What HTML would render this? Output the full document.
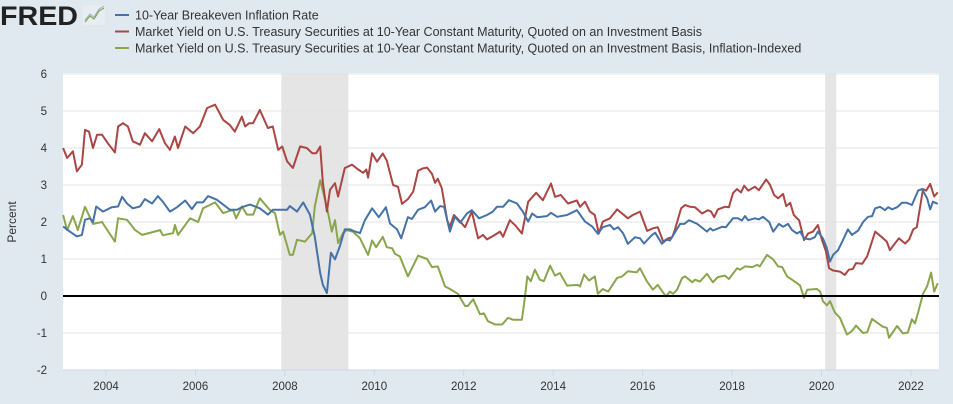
<!DOCTYPE html>
<html><head><meta charset="utf-8"><style>
html,body{margin:0;padding:0;background:#e1e9f0;width:953px;height:404px;overflow:hidden;font-family:"Liberation Sans",sans-serif}
svg{display:block}
</style></head><body>
<svg id="chart" width="953" height="404" xmlns="http://www.w3.org/2000/svg">
<g>
<text x="0" y="25" font-size="27" font-weight="bold" fill="#222" textLength="78" lengthAdjust="spacingAndGlyphs">FRED</text>
<rect x="83" y="5" width="22" height="20" fill="#e8edf2"/>
<polyline points="85,22 90,16 94,19 99,11 104,8" fill="none" stroke="#89a54e" stroke-width="1.2"/>
<polyline points="85,20 90,14 94,17 99,9 104,6" fill="none" stroke="#9ab0c8" stroke-width="1"/>
</g>
<g id="legend" font-size="12.5" fill="#333"></g>
<g id="plot"></g>
</svg>
<script>
const blueDates=[2003.04,2003.19,2003.35,2003.46,2003.53,2003.64,2003.71,2003.78,2003.93,2004.13,2004.27,2004.36,2004.47,2004.60,2004.76,2004.87,2005.03,2005.16,2005.27,2005.43,2005.59,2005.77,2005.92,2006.03,2006.17,2006.28,2006.48,2006.62,2006.77,2006.93,2007.04,2007.22,2007.44,2007.62,2007.73,2008.05,2008.11,2008.27,2008.41,2008.56,2008.67,2008.79,2008.85,2008.94,2009.03,2009.12,2009.23,2009.34,2009.46,2009.57,2009.68,2009.79,2009.95,2010.10,2010.26,2010.35,2010.51,2010.60,2010.75,2010.84,2010.98,2011.13,2011.27,2011.36,2011.47,2011.56,2011.69,2011.80,2011.92,2012.07,2012.18,2012.34,2012.52,2012.65,2012.74,2012.88,2013.01,2013.19,2013.32,2013.44,2013.53,2013.64,2013.86,2013.95,2014.09,2014.31,2014.53,2014.71,2014.87,2015.00,2015.11,2015.27,2015.36,2015.45,2015.56,2015.67,2015.83,2015.94,2016.03,2016.21,2016.28,2016.43,2016.54,2016.61,2016.84,2016.93,2017.04,2017.22,2017.44,2017.51,2017.57,2017.78,2017.86,2018.02,2018.13,2018.22,2018.29,2018.36,2018.51,2018.60,2018.69,2018.83,2018.92,2019.05,2019.14,2019.25,2019.34,2019.45,2019.52,2019.61,2019.74,2019.85,2019.92,2020.03,2020.12,2020.19,2020.26,2020.37,2020.48,2020.59,2020.68,2020.82,2020.93,2021.04,2021.13,2021.20,2021.31,2021.42,2021.49,2021.58,2021.69,2021.80,2021.91,2022.02,2022.16,2022.25,2022.36,2022.43,2022.49,2022.60];
const blueValues=[1.88,1.74,1.61,1.65,2.06,2.10,2.00,2.42,2.28,2.40,2.42,2.68,2.50,2.37,2.42,2.62,2.50,2.70,2.55,2.28,2.40,2.58,2.35,2.53,2.53,2.70,2.60,2.47,2.33,2.33,2.40,2.47,2.37,2.20,2.33,2.33,2.43,2.28,2.53,2.20,1.60,0.62,0.30,0.08,1.17,0.99,1.35,1.80,1.80,1.74,1.70,2.05,2.37,2.13,2.40,1.96,1.80,1.56,2.13,2.08,2.33,2.40,2.58,2.28,2.43,2.41,1.74,2.14,1.98,2.23,2.32,2.10,2.19,2.28,2.41,2.41,2.59,2.50,2.28,2.01,2.23,2.13,2.16,2.25,2.14,2.19,2.32,2.01,1.88,1.68,1.86,1.92,1.80,1.86,1.70,1.41,1.59,1.56,1.42,1.65,1.71,1.41,1.53,1.50,1.95,1.95,2.05,1.95,1.74,1.83,1.77,1.87,1.86,2.10,2.10,2.04,2.16,2.05,2.10,2.07,2.14,2.00,1.74,1.95,1.87,1.95,1.78,1.69,1.74,1.56,1.53,1.59,1.74,1.56,1.29,0.93,1.11,1.24,1.51,1.80,1.65,1.77,2.00,2.14,2.16,2.37,2.41,2.32,2.40,2.34,2.40,2.52,2.52,2.46,2.85,2.89,2.64,2.34,2.55,2.49];
const redDates=[2003.04,2003.13,2003.26,2003.35,2003.46,2003.53,2003.62,2003.71,2003.80,2003.91,2004.04,2004.20,2004.27,2004.38,2004.49,2004.60,2004.76,2004.87,2005.03,2005.19,2005.32,2005.43,2005.54,2005.61,2005.77,2005.95,2006.10,2006.26,2006.44,2006.62,2006.77,2006.88,2007.04,2007.11,2007.20,2007.29,2007.44,2007.62,2007.73,2007.85,2007.94,2008.05,2008.18,2008.34,2008.49,2008.61,2008.70,2008.79,2008.85,2008.94,2009.01,2009.12,2009.19,2009.34,2009.50,2009.64,2009.75,2009.82,2009.86,2009.95,2010.06,2010.19,2010.28,2010.42,2010.53,2010.62,2010.75,2010.87,2010.98,2011.09,2011.18,2011.29,2011.36,2011.42,2011.51,2011.63,2011.69,2011.78,2011.92,2012.03,2012.18,2012.32,2012.43,2012.52,2012.65,2012.81,2012.88,2013.03,2013.15,2013.30,2013.44,2013.62,2013.77,2013.95,2014.04,2014.17,2014.33,2014.53,2014.60,2014.71,2014.82,2014.93,2015.02,2015.11,2015.27,2015.43,2015.54,2015.67,2015.78,2015.94,2016.10,2016.23,2016.34,2016.46,2016.57,2016.66,2016.72,2016.86,2016.95,2017.06,2017.17,2017.33,2017.46,2017.53,2017.60,2017.68,2017.84,2017.93,2018.02,2018.11,2018.20,2018.27,2018.36,2018.51,2018.60,2018.76,2018.85,2018.94,2019.03,2019.14,2019.21,2019.30,2019.38,2019.50,2019.61,2019.70,2019.81,2019.92,2020.01,2020.10,2020.17,2020.26,2020.41,2020.52,2020.61,2020.70,2020.77,2020.91,2021.02,2021.08,2021.20,2021.35,2021.46,2021.53,2021.64,2021.73,2021.87,2021.96,2022.05,2022.13,2022.27,2022.34,2022.43,2022.52,2022.60];
const redValues=[4.00,3.73,3.91,3.37,3.55,4.49,4.44,4.00,4.36,4.36,4.13,3.88,4.58,4.67,4.58,4.18,4.09,4.40,4.18,4.51,4.13,3.95,4.31,4.00,4.58,4.40,4.58,5.08,5.17,4.76,4.62,4.44,4.85,4.58,4.67,4.67,5.03,4.54,4.58,3.95,4.04,3.64,3.46,4.04,4.00,3.86,3.86,4.04,3.05,2.28,2.87,3.05,2.69,3.46,3.55,3.42,3.33,3.42,3.20,3.86,3.63,3.85,3.66,3.00,2.95,2.49,2.62,2.82,3.39,3.45,3.47,3.30,3.06,3.17,2.91,2.05,1.87,2.19,2.01,1.86,2.28,1.56,1.65,1.53,1.62,1.74,1.60,2.05,1.91,1.69,2.55,2.79,2.59,3.04,2.68,2.73,2.50,2.58,2.41,2.55,2.28,2.19,1.69,2.01,2.10,2.34,2.23,2.10,2.19,2.28,1.76,1.83,1.86,1.47,1.56,1.59,1.78,2.37,2.46,2.41,2.40,2.23,2.32,2.28,2.13,2.34,2.41,2.40,2.78,2.89,2.80,2.98,2.85,2.95,2.86,3.15,3.00,2.73,2.64,2.76,2.43,2.52,2.19,2.04,1.51,1.69,1.74,1.92,1.51,1.20,0.75,0.69,0.66,0.57,0.71,0.73,0.89,0.87,1.07,1.29,1.74,1.59,1.47,1.24,1.42,1.56,1.42,1.53,1.80,1.86,2.89,2.85,3.03,2.69,2.80];
const greenDates=[2003.04,2003.13,2003.26,2003.37,2003.53,2003.71,2003.91,2004.20,2004.27,2004.47,2004.65,2004.81,2005.21,2005.27,2005.50,2005.54,2005.61,2005.88,2006.06,2006.17,2006.44,2006.62,2006.84,2006.91,2007.04,2007.15,2007.29,2007.44,2007.66,2007.78,2007.89,2007.96,2008.11,2008.18,2008.27,2008.45,2008.61,2008.67,2008.79,2008.94,2009.05,2009.12,2009.19,2009.30,2009.39,2009.52,2009.68,2009.86,2009.95,2010.04,2010.19,2010.28,2010.40,2010.46,2010.57,2010.75,2010.98,2011.18,2011.29,2011.42,2011.58,2011.69,2011.87,2012.03,2012.09,2012.21,2012.36,2012.45,2012.54,2012.70,2012.86,2012.99,2013.10,2013.30,2013.37,2013.42,2013.50,2013.59,2013.70,2013.79,2013.93,2014.04,2014.15,2014.31,2014.55,2014.60,2014.69,2014.80,2014.93,2015.00,2015.11,2015.23,2015.43,2015.54,2015.67,2015.87,2015.94,2016.10,2016.23,2016.34,2016.52,2016.61,2016.68,2016.77,2016.88,2016.95,2017.11,2017.17,2017.28,2017.44,2017.57,2017.68,2017.84,2017.93,2018.11,2018.18,2018.29,2018.45,2018.56,2018.62,2018.78,2018.92,2019.03,2019.12,2019.23,2019.34,2019.45,2019.52,2019.61,2019.68,2019.90,2019.97,2020.03,2020.12,2020.19,2020.30,2020.41,2020.57,2020.68,2020.77,2020.93,2021.02,2021.13,2021.24,2021.37,2021.46,2021.51,2021.69,2021.82,2021.93,2022.02,2022.09,2022.16,2022.27,2022.36,2022.45,2022.52,2022.60];
const greenValues=[2.19,1.78,2.16,1.78,2.41,1.95,2.00,1.47,2.10,2.06,1.78,1.65,1.78,1.64,1.70,1.92,1.65,2.10,2.00,2.37,2.53,2.24,2.33,2.10,2.42,2.20,2.20,2.64,2.33,2.24,1.65,1.74,1.11,1.11,1.52,1.47,1.70,2.42,3.13,2.40,1.74,2.05,1.43,1.70,1.78,1.74,1.56,1.11,1.50,1.32,1.60,1.32,1.29,1.14,1.07,0.53,1.09,1.00,0.78,0.80,0.26,0.19,0.06,-0.27,-0.27,-0.09,-0.49,-0.47,-0.68,-0.77,-0.77,-0.59,-0.64,-0.64,-0.02,0.53,0.40,0.71,0.44,0.40,0.82,0.55,0.62,0.28,0.30,0.26,0.58,0.42,0.53,0.06,0.19,0.12,0.49,0.53,0.67,0.64,0.75,0.39,0.17,0.30,-0.01,0.12,0.06,0.17,0.48,0.53,0.37,0.44,0.39,0.60,0.37,0.51,0.55,0.46,0.75,0.71,0.80,0.78,0.84,0.80,1.11,0.99,0.80,0.78,0.53,0.44,0.35,0.28,-0.05,0.17,0.19,0.12,-0.14,-0.25,-0.14,-0.45,-0.59,-1.04,-0.95,-0.80,-1.00,-0.98,-0.62,-0.72,-0.83,-0.86,-1.13,-0.81,-1.01,-0.99,-0.63,-0.74,-0.45,0.06,0.26,0.63,0.12,0.35];
const yTicks=[-2,-1,0,1,2,3,4,5,6];
const xTickYears=[2004,2006,2008,2010,2012,2014,2016,2018,2020,2022];
const recessionStarts=[2007.92,2020.08];
const recessionEnds=[2009.42,2020.33];
const legendLabels=["10-Year Breakeven Inflation Rate","Market Yield on U.S. Treasury Securities at 10-Year Constant Maturity, Quoted on an Investment Basis","Market Yield on U.S. Treasury Securities at 10-Year Constant Maturity, Quoted on an Investment Basis, Inflation-Indexed"];

const NS="http://www.w3.org/2000/svg";
const L=63,R=939,T=73,B=370;
const xs=y=>106+(y-2004)*44.72;
const ys=v=>296-37*v;
const plot=document.getElementById('plot');
function mk(tag,attrs,parent){const e=document.createElementNS(NS,tag);for(const k in attrs)e.setAttribute(k,attrs[k]);(parent||plot).appendChild(e);return e;}

const bg=mk('rect',{x:L,y:T,width:R-L,height:B-T,fill:'#fff'});


recessionStarts.forEach((s,i)=>{
  const r=mk('rect',{x:xs(s),y:T,width:xs(recessionEnds[i])-xs(s),height:B-T,fill:'#e5e5e5'});
  
  
});
yTicks.forEach(v=>{
  if(v!==-2 && v!==0){
    const g=mk('line',{x1:L,x2:R,y1:ys(v),y2:ys(v),stroke:'#e3e3e3','stroke-width':1});
    
    
  }
  const t=mk('text',{x:47,y:ys(v)+4,'text-anchor':'end','font-size':11.5,fill:'#333'});
  t.textContent=v;
  
  
});
const ax=mk('line',{x1:L,x2:R,y1:B,y2:B,stroke:'#ccd6eb','stroke-width':1});


xTickYears.forEach(yr=>{
  const tk=mk('line',{x1:xs(yr),x2:xs(yr),y1:B,y2:B+6,stroke:'#ccd6eb'});
  
  
  const t=mk('text',{x:xs(yr),y:390,'text-anchor':'middle','font-size':11.5,fill:'#333'});
  t.textContent=yr;
  
  
});
const yt=mk('text',{x:0,y:0,transform:'translate(16,222) rotate(-90)','text-anchor':'middle','font-size':12,fill:'#333'});
yt.textContent='Percent';



function series(dates,vals,color,name){
  const pts=dates.map((d,i)=>xs(d).toFixed(1)+','+ys(vals[i]).toFixed(1)).join(' ');
  const p=mk('polyline',{points:pts,fill:'none',stroke:color,'stroke-width':2,'stroke-linejoin':'round'});
  
  
}
series(greenDates,greenValues,'#89a54e','series-tips-yield');
series(redDates,redValues,'#aa4643','series-nominal-yield');
series(blueDates,blueValues,'#4572a7','series-breakeven');
const z=mk('line',{x1:L,x2:R,y1:ys(0),y2:ys(0),stroke:'#000','stroke-width':2});



const lg=document.getElementById('legend');
const colors=['#4572a7','#aa4643','#89a54e'];
legendLabels.forEach((lab,i)=>{
  const y=15+i*16.5;
  const g=mk('g',{},lg);
  
  
  mk('line',{x1:115,x2:129,y1:y,y2:y,stroke:colors[i],'stroke-width':2},g);
  const t=mk('text',{x:135,y:y+4.5,fill:'#333','font-size':12.5},g);
  t.textContent=lab;
});
</script>
</body></html>
